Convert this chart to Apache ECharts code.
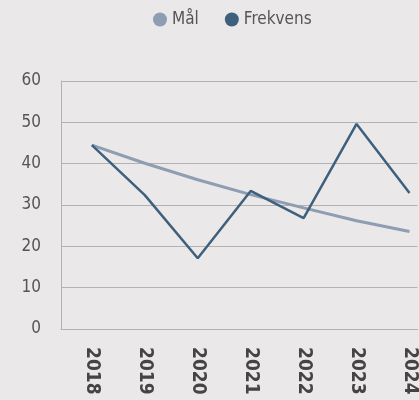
<!DOCTYPE html>
<html><head><meta charset="utf-8">
<script src="https://cdn.jsdelivr.net/npm/echarts@6/dist/echarts.min.js"></script>
<style>html,body{margin:0;padding:0;background:#eae8e8;}#c{width:419px;height:400px;}</style>
</head><body><div id="c"></div>
<script>
var years = [2018, 2019, 2020, 2021, 2022, 2023, 2024];
var maal = [44.5, 40.1, 36.1, 32.5, 29.3, 26.2, 23.6];
var frekvens = [44.5, 32.4, 17.1, 33.4, 26.8, 49.6, 32.9];
var yTicks = [0, 10, 20, 30, 40, 50, 60];

var font = '"Liberation Sans Narrow","DejaVu Sans Condensed",sans-serif';
var chart = echarts.init(document.getElementById('c'), null, {renderer: 'canvas'});
function pairs(v){ return years.map(function(y,i){ return [y, v[i]]; }); }
chart.setOption({
  backgroundColor: '#eae8e8',
  animation: false,
  legend: {
    top: 6, left: 148,
    icon: 'circle', itemWidth: 14, itemHeight: 14, itemGap: 26,
    textStyle: {fontFamily: font, fontSize: 17, color: '#555'},
    data: ['Mål', 'Frekvens']
  },
  grid: {left: 61, top: 81, right: 0, bottom: 71, containLabel: false},
  xAxis: {
    type: 'value', min: 2017.417, max: 2024.15,
    axisLine: {show: true, lineStyle: {color: '#b3b1b1', width: 1}},
    axisTick: {show: false},
    splitLine: {show: false},
    axisLabel: {
      customValues: years, rotate: -90, margin: 18,
      fontFamily: font, fontSize: 19, fontWeight: 'bold', color: '#444',
      formatter: function(v){ return String(v); }
    }
  },
  yAxis: {
    type: 'value', min: 0, max: 60, interval: 10,
    axisLine: {show: true, lineStyle: {color: '#b3b1b1', width: 1}},
    axisTick: {show: false},
    splitLine: {show: true, lineStyle: {color: '#b3b1b1', width: 1}},
    axisLabel: {margin: 20, fontFamily: font, fontSize: 17, color: '#555'}
  },
  series: [
    {name: 'Mål', type: 'line', data: pairs(maal), showSymbol: false,
     itemStyle: {color: '#8e9db2'}, lineStyle: {color: '#8e9db2', width: 3}},
    {name: 'Frekvens', type: 'line', data: pairs(frekvens), showSymbol: false,
     itemStyle: {color: '#3e607d'}, lineStyle: {color: '#3e607d', width: 2.5}}
  ]
});
</script></body></html>
